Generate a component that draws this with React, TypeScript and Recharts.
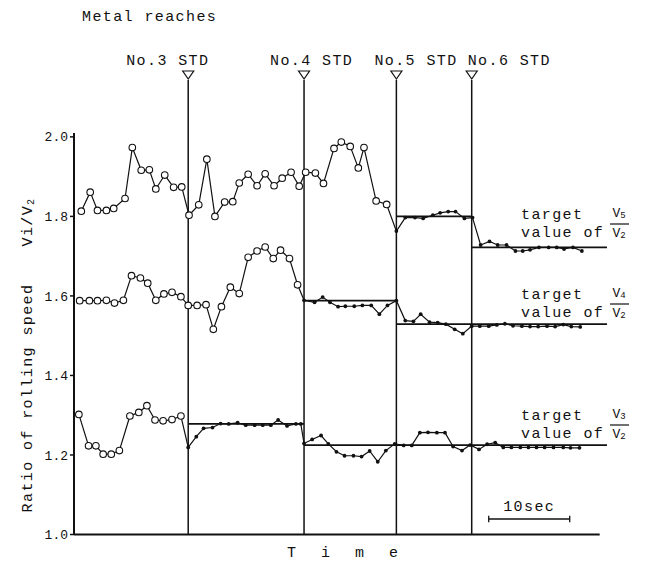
import { LineChart, Line, XAxis, YAxis, ReferenceLine } from 'recharts';

// stands (time in sec at which metal reaches each stand)
const STD_NAMES = ['No.3', 'No.4', 'No.5', 'No.6'];
const STD_TIMES = [14.1, 28.4, 39.8, 49.1];
const END_TIME = 65.8;
const AXIS_END = 64.9;
const Y_TICKS = [1.0, 1.2, 1.4, 1.6, 1.8, 2.0];

// V5/V2
const v5Time = [
  0.9, 2.0, 2.9, 4.0, 4.9, 6.3, 7.2, 8.3, 9.3, 10.1,
  11.2, 12.3, 13.3, 14.2, 15.4, 16.4, 17.4, 18.6, 19.6, 20.4,
  21.5, 22.6, 23.6, 24.7, 25.7, 26.8, 27.8, 28.6, 29.8, 30.8,
  32.1, 33.0, 34.1, 35.1, 35.8, 37.3, 38.6, 39.8, 40.9, 42.1,
  43.1, 44.3, 45.2, 46.2, 47.1, 48.2, 49.2, 50.2, 51.3, 52.3,
  53.4, 54.5, 55.4, 56.3, 57.4, 58.6, 59.6, 60.5, 61.6, 62.7,
];
const v5Ratio = [
  1.813, 1.861, 1.815, 1.815, 1.82, 1.845, 1.973, 1.916, 1.917, 1.869,
  1.904, 1.873, 1.874, 1.803, 1.829, 1.944, 1.8, 1.836, 1.837, 1.884,
  1.906, 1.877, 1.907, 1.877, 1.896, 1.911, 1.876, 1.911, 1.909, 1.883,
  1.971, 1.987, 1.976, 1.922, 1.973, 1.839, 1.83, 1.763, 1.797, 1.797,
  1.795, 1.803, 1.809, 1.812, 1.812, 1.795, 1.797, 1.728, 1.737, 1.728,
  1.728, 1.713, 1.713, 1.716, 1.722, 1.722, 1.722, 1.718, 1.722, 1.713,
];

// V4/V2
const v4Time = [
  0.7, 1.9, 2.9, 4.0, 5.0, 6.1, 7.1, 8.2, 9.1, 10.1,
  11.1, 12.1, 13.2, 14.1, 15.2, 16.3, 17.2, 18.2, 19.3, 20.4,
  21.5, 22.6, 23.6, 24.6, 25.5, 26.6, 27.6, 28.4, 29.7, 30.7,
  31.6, 32.6, 33.5, 34.6, 35.6, 36.7, 37.7, 38.7, 39.8, 40.9,
  41.9, 42.8, 43.9, 44.9, 45.9, 47.0, 48.0, 49.1, 50.1, 51.2,
  52.2, 53.2, 54.2, 55.3, 56.3, 57.3, 58.4, 59.4, 60.4, 61.4,
  62.5,
];
const v4Ratio = [
  1.588, 1.588, 1.588, 1.589, 1.582, 1.589, 1.651, 1.645, 1.632, 1.589,
  1.605, 1.609, 1.598, 1.576, 1.576, 1.578, 1.516, 1.573, 1.622, 1.606,
  1.697, 1.713, 1.723, 1.694, 1.715, 1.694, 1.628, 1.589, 1.584, 1.597,
  1.584, 1.573, 1.574, 1.574, 1.576, 1.576, 1.554, 1.576, 1.588, 1.538,
  1.536, 1.554, 1.534, 1.533, 1.529, 1.516, 1.505, 1.524, 1.524, 1.524,
  1.527, 1.53, 1.525, 1.524, 1.523, 1.523, 1.524, 1.523, 1.528, 1.523,
  1.522,
];

// V3/V2
const v3Time = [
  0.6, 1.8, 2.7, 3.6, 4.6, 5.6, 6.9, 8.0, 9.0, 10.0,
  11.0, 12.1, 13.2, 14.1, 15.1, 16.0, 17.1, 18.1, 19.1, 20.2,
  21.2, 22.3, 23.3, 24.3, 25.2, 26.3, 27.4, 28.0, 28.4, 29.4,
  30.5, 31.4, 32.4, 33.4, 34.5, 35.5, 36.5, 37.5, 38.5, 39.6,
  40.7, 41.7, 42.7, 43.7, 44.8, 45.8, 46.8, 47.9, 48.9, 50.0,
  51.0, 52.0, 53.0, 54.0, 55.1, 56.1, 57.1, 58.1, 59.2, 60.4,
  61.3, 62.4,
];
const v3Ratio = [
  1.302, 1.223, 1.223, 1.202, 1.202, 1.211, 1.298, 1.307, 1.324, 1.288,
  1.286, 1.289, 1.298, 1.219, 1.246, 1.267, 1.269, 1.279, 1.278, 1.281,
  1.275, 1.275, 1.275, 1.275, 1.288, 1.273, 1.278, 1.278, 1.229, 1.239,
  1.249, 1.228, 1.208, 1.198, 1.198, 1.196, 1.21, 1.183, 1.211, 1.228,
  1.224, 1.224, 1.256, 1.257, 1.256, 1.256, 1.221, 1.211, 1.225, 1.214,
  1.227, 1.231, 1.219, 1.219, 1.219, 1.219, 1.219, 1.219, 1.219, 1.219,
  1.218, 1.218,
];

// target values, before / after the next stand
const v5Target = [1.8, 1.722];
const v4Target = [1.588, 1.529];
const v3Target = [1.278, 1.225];

// 10 sec scale bar
const SCALE_BAR = [51.2, 61.2];
const SCALE_BAR_Y = 1.039;

const FONT = "'Liberation Mono', 'DejaVu Sans Mono', monospace";
const INK = '#111';

// label x offset relative to each stand line
const STD_LABEL_DX = [-62, -34, -22, -4];

const toData = (ts: number[], vs: number[]) => ts.map((t, i) => ({ t, v: vs[i] }));

const v5Data = toData(v5Time, v5Ratio);
const v4Data = toData(v4Time, v4Ratio);
const v3Data = toData(v3Time, v3Ratio);

// open circles until the controlled stand is reached, small filled dots after
const makeDot = (switchAt: number) => (props: any) => {
  const { cx, cy, payload, index } = props;
  if (cx == null || cy == null) return <g key={`e-${index}`} />;
  if (payload.t >= switchAt - 0.05) {
    return <circle key={`f-${index}`} cx={cx} cy={cy} r={1.9} fill={INK} />;
  }
  return <circle key={`o-${index}`} cx={cx} cy={cy} r={3.3} fill="#fff" stroke={INK} strokeWidth={1.1} />;
};

const StdMark = (props: any) => {
  const { viewBox, name, dx } = props;
  const x = viewBox.x;
  const top = viewBox.y;
  return (
    <g>
      <polygon
        points={`${x - 5.5},${top - 9} ${x + 5.5},${top - 9} ${x},${top - 1}`}
        fill="#fff"
        stroke={INK}
        strokeWidth={1.2}
      />
      <text x={x + dx} y={top - 19} fontFamily={FONT} fontSize={15} letterSpacing={1.4} fill={INK}
        dominantBaseline="central">
        {`${name} STD`}
      </text>
    </g>
  );
};

const TargetLabel = ({ y, sub }: { y: number; sub: string }) => (
  <g fontFamily={FONT} fill={INK}>
    <text x={513} y={y} fontSize={15} letterSpacing={1.4} dominantBaseline="central">target</text>
    <text x={513} y={y + 18} fontSize={15} letterSpacing={1.4} dominantBaseline="central">value of</text>
    <text x={611} y={y - 2} fontSize={13} textAnchor="middle" dominantBaseline="central">
      V<tspan fontSize={9} dy={3}>{sub}</tspan>
    </text>
    <line x1={602} x2={621} y1={y + 9} y2={y + 9} stroke={INK} strokeWidth={1.2} />
    <text x={611} y={y + 18} fontSize={13} textAnchor="middle" dominantBaseline="central">
      V<tspan fontSize={9} dy={3}>2</tspan>
    </text>
  </g>
);

export default function App() {
  return (
    <div style={{ position: 'relative', width: 640, height: 558 }}>
      <LineChart width={640} height={558} margin={{ top: 72, right: 39.4, bottom: 31.5, left: 26 }}>
        <XAxis type="number" dataKey="t" domain={[0, 66]} hide allowDataOverflow />
        <YAxis
          type="number"
          domain={[1, 2.143]}
          ticks={Y_TICKS}
          width={40}
          axisLine={false}
          tickSize={4}
          tickMargin={2}
          tickLine={{ stroke: INK, strokeWidth: 1.5 }}
          tickFormatter={(v: number) => v.toFixed(1)}
          tick={{ fontFamily: FONT, fontSize: 13, fill: INK }}
          allowDataOverflow
        />

        {/* axes */}
        <ReferenceLine segment={[{ x: 0, y: 1 }, { x: 0, y: 2.01 }]} stroke={INK} strokeWidth={2} />
        <ReferenceLine segment={[{ x: 0, y: 1 }, { x: AXIS_END, y: 1 }]} stroke={INK} strokeWidth={2} />

        {/* stand arrival lines */}
        {STD_TIMES.map((t, i) => (
          <ReferenceLine
            key={`std-${i}`}
            x={t}
            stroke={INK}
            strokeWidth={1.5}
            label={<StdMark name={STD_NAMES[i]} dx={STD_LABEL_DX[i]} />}
          />
        ))}

        {/* target values */}
        <ReferenceLine segment={[{ x: STD_TIMES[2], y: v5Target[0] }, { x: STD_TIMES[3], y: v5Target[0] }]} stroke={INK} strokeWidth={1.8} />
        <ReferenceLine segment={[{ x: STD_TIMES[3], y: v5Target[1] }, { x: END_TIME, y: v5Target[1] }]} stroke={INK} strokeWidth={1.8} />
        <ReferenceLine segment={[{ x: STD_TIMES[1], y: v4Target[0] }, { x: STD_TIMES[2], y: v4Target[0] }]} stroke={INK} strokeWidth={1.8} />
        <ReferenceLine segment={[{ x: STD_TIMES[2], y: v4Target[1] }, { x: END_TIME, y: v4Target[1] }]} stroke={INK} strokeWidth={1.8} />
        <ReferenceLine segment={[{ x: STD_TIMES[0], y: v3Target[0] }, { x: STD_TIMES[1], y: v3Target[0] }]} stroke={INK} strokeWidth={1.8} />
        <ReferenceLine segment={[{ x: STD_TIMES[1], y: v3Target[1] }, { x: END_TIME, y: v3Target[1] }]} stroke={INK} strokeWidth={1.8} />

        {/* 10 sec bar */}
        <ReferenceLine
          segment={[{ x: SCALE_BAR[0], y: SCALE_BAR_Y }, { x: SCALE_BAR[1], y: SCALE_BAR_Y }]}
          stroke={INK}
          strokeWidth={1.3}
          label={{ value: '10sec', position: 'top', offset: 8, fontFamily: FONT, fontSize: 15, fill: INK, letterSpacing: 1.4 }}
        />
        {SCALE_BAR.map((t, i) => (
          <ReferenceLine key={`bar-${i}`} segment={[{ x: t, y: SCALE_BAR_Y - 0.008 }, { x: t, y: SCALE_BAR_Y + 0.008 }]} stroke={INK} strokeWidth={1.3} />
        ))}

        <Line data={v5Data} dataKey="v" type="linear" stroke={INK} strokeWidth={1.2} dot={makeDot(STD_TIMES[2])} isAnimationActive={false} />
        <Line data={v4Data} dataKey="v" type="linear" stroke={INK} strokeWidth={1.2} dot={makeDot(STD_TIMES[1])} isAnimationActive={false} />
        <Line data={v3Data} dataKey="v" type="linear" stroke={INK} strokeWidth={1.2} dot={makeDot(STD_TIMES[0])} isAnimationActive={false} />
      </LineChart>

      <svg width={640} height={558} style={{ position: 'absolute', left: 0, top: 0, pointerEvents: 'none' }}>
        <text x={74} y={9} fontFamily={FONT} fontSize={15} letterSpacing={1.4} fill={INK} dominantBaseline="central">
          Metal reaches
        </text>
        <g fontFamily={FONT} fontSize={15} letterSpacing={1.4} fill={INK}>
          <text transform="translate(20,390) rotate(-90)" textAnchor="middle" dominantBaseline="central">
            Ratio of rolling speed
          </text>
          <text transform="translate(20,214) rotate(-90)" textAnchor="middle" dominantBaseline="central">
            Vi/V<tspan fontSize={10} dy={3}>2</tspan>
          </text>
        </g>
        <text x={279} y={545} fontFamily={FONT} fontSize={15} letterSpacing={8} fill={INK} dominantBaseline="central">
          T i m e
        </text>
        <TargetLabel y={207} sub="5" />
        <TargetLabel y={287} sub="4" />
        <TargetLabel y={408} sub="3" />
      </svg>
    </div>
  );
}
